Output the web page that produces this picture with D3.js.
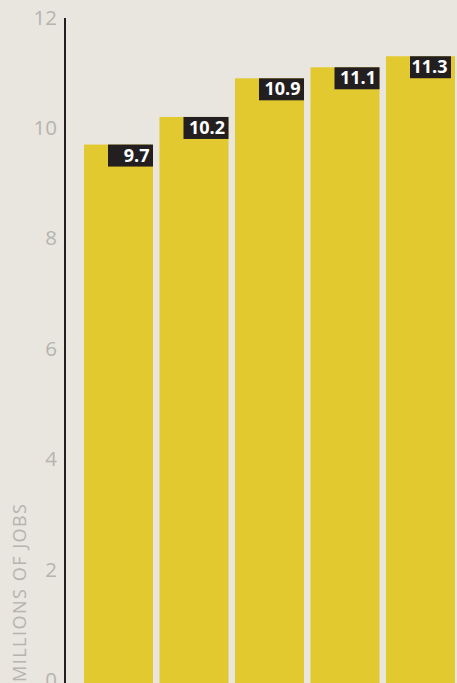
<!DOCTYPE html>
<html><head><meta charset="utf-8">
<script src="https://cdn.jsdelivr.net/npm/d3@7/dist/d3.min.js"></script>
<style>
html,body{margin:0;padding:0;background:#e9e5df;overflow:hidden}
svg{display:block}
</style></head>
<body>
<script>
const categories = ["A","B","C","D","E"];
const values = [9.7, 10.2, 10.9, 11.1, 11.3];
const valueLabels = ["9.7","10.2","10.9","11.1","11.3"];
const tickValues = [0, 2, 4, 6, 8, 10, 12];
const axisTitle = "MILLIONS OF JOBS";

const W = 457, H = 683;
const svg = d3.select("body").append("svg").attr("width", W).attr("height", H);
svg.append("rect").attr("width", W).attr("height", H).attr("fill", "#e9e5df");

const y = d3.scaleLinear().domain([0, 12]).range([680, 17.6]);
const x = d3.scaleBand().domain(categories).range([84, 455]).paddingInner(0.086).paddingOuter(0);

// bars
svg.selectAll("rect.bar").data(values).join("rect")
  .attr("class", "bar")
  .attr("x", (d, i) => x(categories[i]))
  .attr("width", x.bandwidth())
  .attr("y", d => y(d))
  .attr("height", d => H + 2 - y(d))
  .attr("fill", "#e2c92f");

// axis
const axis = d3.axisLeft(y).tickValues(tickValues).tickSize(0).tickPadding(8).tickFormat(d3.format("d"));
const g = svg.append("g").attr("transform", "translate(65,0)").call(axis);
g.select(".domain").remove();
g.selectAll("text")
  .attr("fill", "#b5b4af")
  .style("font-family", "'Open Sans', sans-serif")
  .style("font-size", "20.5px")
  .style("font-weight", "400");
svg.append("line").attr("x1", 65).attr("x2", 65).attr("y1", 18).attr("y2", H)
  .attr("stroke", "#231f20").attr("stroke-width", 2);

// value labels
const boxH = 22, boxW = 45;
const lbl = svg.selectAll("g.lbl").data(values).join("g").attr("class", "lbl");
lbl.each(function(d, i) {
  const gg = d3.select(this);
  const barRight = x(categories[i]) + x.bandwidth();
  const left = barRight - boxW;
  const right = Math.min(barRight, W - 6);
  gg.append("rect")
    .attr("x", left)
    .attr("y", y(d))
    .attr("width", right - left)
    .attr("height", boxH)
    .attr("fill", "#231f20");
  gg.append("text")
    .attr("x", right - 3.5)
    .attr("y", y(d) + 17)
    .attr("text-anchor", "end")
    .attr("fill", "#ffffff")
    .style("font-family", "'Open Sans', sans-serif")
    .style("font-size", "18px")
    .style("font-weight", "700")
    .text(valueLabels[i]);
});

// axis title
svg.append("text")
  .attr("transform", `translate(26,${H - 1}) rotate(-90)`)
  .attr("text-anchor", "start")
  .attr("fill", "#b5b4af")
  .attr("textLength", 178)
  .attr("lengthAdjust", "spacing")
  .style("font-family", "'Open Sans', sans-serif")
  .style("font-size", "18px")
  .style("font-weight", "400")
  .text(axisTitle);
</script>
</body></html>
